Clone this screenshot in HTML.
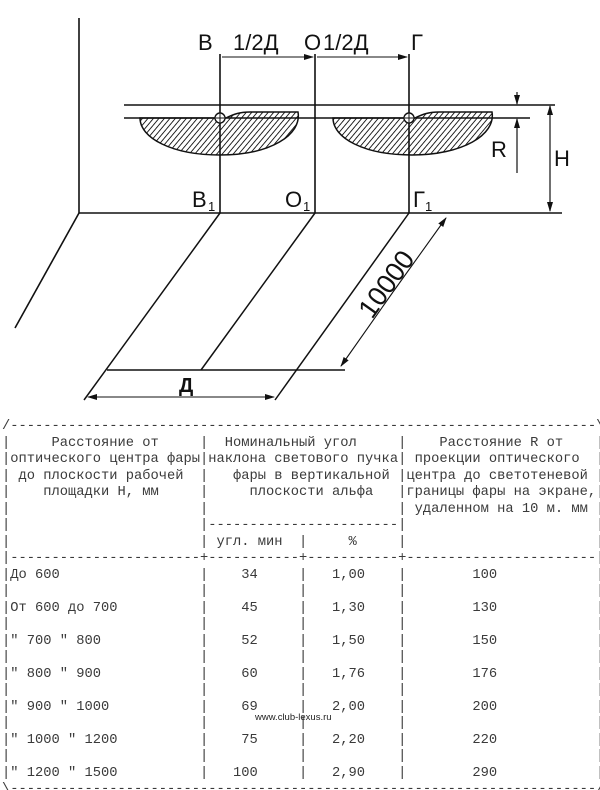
<!DOCTYPE html>
<html><head><meta charset="utf-8">
<style>
html,body{margin:0;padding:0;background:#fff;width:600px;height:790px;overflow:hidden;position:relative}
svg{position:absolute;left:0;top:0}
pre{position:absolute;left:2px;top:419px;margin:0;font-family:"Liberation Mono",monospace;font-size:13.75px;line-height:16.5px;color:#3a3a3a;white-space:pre}
.wm{position:absolute;left:255px;top:712px;font-family:"Liberation Sans",sans-serif;font-size:9.5px;color:#222}
</style></head><body>
<svg width="600" height="410" viewBox="0 0 600 410">
<defs>
<pattern id="h" patternUnits="userSpaceOnUse" width="4.2" height="4.2" patternTransform="rotate(40)">
<line x1="0" y1="0" x2="0" y2="4.2" stroke="#111" stroke-width="1.8"/>
</pattern>
<marker id="a" markerWidth="10" markerHeight="6" refX="9" refY="3" orient="auto" markerUnits="userSpaceOnUse">
<path d="M0,0 L10,3 L0,6 Z" fill="#111"/></marker>
</defs>
<g stroke="#111" stroke-width="1.6" fill="none">
<line x1="79" y1="18" x2="79" y2="213"/>
<line x1="79" y1="213" x2="562" y2="213"/>
<line x1="79" y1="213" x2="15" y2="328"/>
<line x1="220" y1="54" x2="220" y2="213"/>
<line x1="315" y1="54" x2="315" y2="213"/>
<line x1="409" y1="54" x2="409" y2="213"/>
<line x1="124" y1="105" x2="555" y2="105"/>
<line x1="124" y1="118" x2="530" y2="118"/>
</g>
<g stroke="#111" stroke-width="1" fill="none">
<line x1="222" y1="57" x2="313" y2="57" marker-end="url(#a)"/>
<line x1="317" y1="57" x2="407" y2="57" marker-end="url(#a)"/>
</g>
<g stroke="#111" stroke-width="1.5" fill="url(#h)">
<path d="M140,118 L226,118 C234,114 240,112 250,112 L298,112 C302,135 270,155 220,155 C172,155 140,138 140,118 Z"/>
<path d="M333,118 L415,118 C423,114 429,112 439,112 L492,112 C496,135 462,155 412,155 C364,155 333,138 333,118 Z"/>
</g>
<g stroke="#111" stroke-width="1.4" fill="#fff">
<circle cx="220" cy="118" r="5"/><circle cx="409" cy="118" r="5"/>
</g>
<g stroke="#111" stroke-width="1">
<line x1="216" y1="118" x2="224" y2="118"/><line x1="220" y1="114" x2="220" y2="122"/>
<line x1="405" y1="118" x2="413" y2="118"/><line x1="409" y1="114" x2="409" y2="122"/>
</g>
<g stroke="#111" stroke-width="1.2" fill="none">
<line x1="517" y1="92" x2="517" y2="104" marker-end="url(#a)"/>
<line x1="517" y1="173" x2="517" y2="119" marker-end="url(#a)"/>
<line x1="550" y1="160" x2="550" y2="106" marker-end="url(#a)"/>
<line x1="550" y1="160" x2="550" y2="211" marker-end="url(#a)"/>
</g>
<g stroke="#111" stroke-width="1.5" fill="none">
<line x1="220" y1="213" x2="84" y2="400"/>
<line x1="315" y1="213" x2="201" y2="370"/>
<line x1="409" y1="213" x2="275" y2="400"/>
<line x1="107" y1="370" x2="345" y2="370"/>
</g>
<g stroke="#111" stroke-width="1.1" fill="none">
<line x1="393" y1="292" x2="446" y2="218" marker-end="url(#a)"/>
<line x1="393" y1="292" x2="341" y2="366" marker-end="url(#a)"/>
<line x1="180" y1="397" x2="88" y2="397" marker-end="url(#a)"/>
<line x1="180" y1="397" x2="274" y2="397" marker-end="url(#a)"/>
</g>
<g font-family="Liberation Sans, sans-serif" fill="#111" font-size="22">
<text x="198" y="50">В</text>
<text x="233" y="50">1/2Д</text>
<text x="304" y="50">О</text>
<text x="323" y="50">1/2Д</text>
<text x="411" y="50">Г</text>
<text x="491" y="157">R</text>
<text x="554" y="166">H</text>
<text x="192" y="207">В</text><text x="208" y="211" font-size="13">1</text>
<text x="285" y="207">О</text><text x="303" y="211" font-size="13">1</text>
<text x="413" y="207">Г</text><text x="425" y="211" font-size="13">1</text>
<text x="179" y="392" font-size="20" font-weight="bold">Д</text>
<text x="0" y="0" font-size="27" transform="translate(372,320) rotate(-54.5)">10000</text>
</g>
</svg>
<pre>/-----------------------------------------------------------------------\
|     Расстояние от     |  Номинальный угол     |    Расстояние R от    |
|оптического центра фары|наклона светового пучка| проекции оптического  |
| до плоскости рабочей  |   фары в вертикальной |центра до светотеневой |
|    площадки Н, мм     |     плоскости альфа   |границы фары на экране,|
|                       |                       | удаленном на 10 м. мм |
|                       |-----------------------|                       |
|                       | угл. мин  |     %     |                       |
|-----------------------+-----------+-----------+-----------------------|
|До 600                 |    34     |   1,00    |        100            |
|                       |           |           |                       |
|От 600 до 700          |    45     |   1,30    |        130            |
|                       |           |           |                       |
|" 700 " 800            |    52     |   1,50    |        150            |
|                       |           |           |                       |
|" 800 " 900            |    60     |   1,76    |        176            |
|                       |           |           |                       |
|" 900 " 1000           |    69     |   2,00    |        200            |
|                       |           |           |                       |
|" 1000 " 1200          |    75     |   2,20    |        220            |
|                       |           |           |                       |
|" 1200 " 1500          |   100     |   2,90    |        290            |
\-----------------------------------------------------------------------/</pre>
<div class="wm">www.club-lexus.ru</div>
</body></html>
